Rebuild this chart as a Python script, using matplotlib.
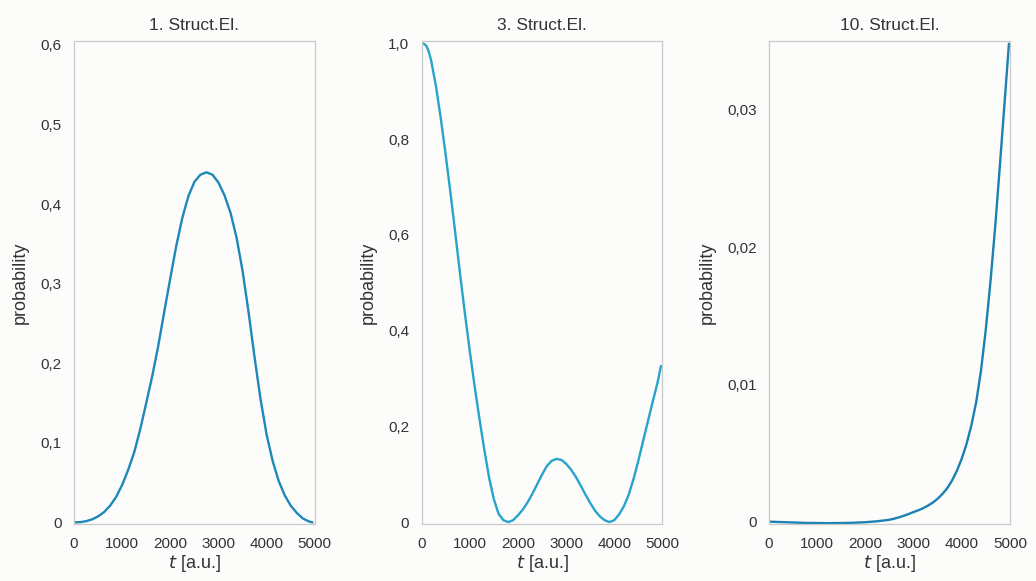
import matplotlib
matplotlib.use("Agg")
import matplotlib.pyplot as plt

# ---- data ----
titles = ["1. Struct.El.", "3. Struct.El.", "10. Struct.El."]

t1 = [0, 125, 250, 375, 500, 625, 750, 875, 1000, 1125, 1250, 1375, 1500, 1625,
      1750, 1875, 2000, 2125, 2250, 2375, 2500, 2625, 2750, 2875, 3000, 3125,
      3250, 3375, 3500, 3625, 3750, 3875, 4000, 4125, 4250, 4375, 4500, 4625,
      4750, 4875, 4950]
p1 = [0.0, 0.0003, 0.0015, 0.0038, 0.0075, 0.013, 0.021, 0.032, 0.047, 0.066,
      0.088, 0.117, 0.150, 0.184, 0.222, 0.265, 0.307, 0.348, 0.383, 0.410,
      0.428, 0.437, 0.440, 0.437, 0.427, 0.411, 0.389, 0.358, 0.316, 0.264,
      0.207, 0.154, 0.110, 0.077, 0.052, 0.034, 0.021, 0.012, 0.005, 0.0012, 0.0]

t2 = [0, 50, 100, 150, 200, 300, 400, 500, 600, 700, 800, 900, 1000, 1100, 1200,
      1300, 1400, 1500, 1600, 1700, 1800, 1900, 2000, 2100, 2200, 2300, 2400,
      2500, 2600, 2700, 2800, 2900, 3000, 3100, 3200, 3300, 3400, 3500, 3600,
      3700, 3800, 3900, 4000, 4100, 4200, 4300, 4400, 4500, 4600, 4700, 4800,
      4900, 4970]
p2 = [1.000, 0.999, 0.995, 0.983, 0.964, 0.910, 0.843, 0.768, 0.688, 0.604,
      0.518, 0.436, 0.358, 0.285, 0.217, 0.153, 0.094, 0.048, 0.017, 0.004,
      0.000, 0.004, 0.014, 0.026, 0.041, 0.059, 0.079, 0.099, 0.117, 0.128,
      0.132, 0.130, 0.122, 0.110, 0.095, 0.077, 0.058, 0.040, 0.024, 0.012,
      0.004, 0.000, 0.004, 0.016, 0.033, 0.057, 0.090, 0.128, 0.170, 0.211,
      0.252, 0.292, 0.326]

t3 = [0, 250, 500, 750, 1000, 1250, 1500, 1750, 2000, 2250, 2500, 2600, 2700,
      2800, 2900, 3000, 3100, 3200, 3300, 3400, 3500, 3600, 3700, 3800, 3900,
      4000, 4100, 4200, 4300, 4400, 4500, 4600, 4700, 4800, 4900, 4980]
p3 = [0.0, -0.00003, -0.00006, -0.00009, -0.0001, -0.00011, -0.0001, -0.00008,
      -0.00004, 0.00003, 0.00014, 0.00022, 0.00032, 0.00043, 0.00056, 0.00070,
      0.00083, 0.00098, 0.00117, 0.00139, 0.00167, 0.00202, 0.00244, 0.00300,
      0.00371, 0.00458, 0.00566, 0.00700, 0.0087, 0.0110, 0.0140, 0.0176,
      0.0217, 0.0263, 0.0310, 0.0348]

xticks = [0, 1000, 2000, 3000, 4000, 5000]
yticks1 = [0, 0.1, 0.2, 0.3, 0.4, 0.5, 0.6]
ylabels1 = ["0", "0,1", "0,2", "0,3", "0,4", "0,5", "0,6"]
yticks2 = [0, 0.2, 0.4, 0.6, 0.8, 1.0]
ylabels2 = ["0", "0,2", "0,4", "0,6", "0,8", "1,0"]
yticks3 = [0, 0.01, 0.02, 0.03]
ylabels3 = ["0", "0,01", "0,02", "0,03"]

series = [(t1, p1, yticks1, ylabels1, (-0.002, 0.605), "#1e88b9"),
          (t2, p2, yticks2, ylabels2, (-0.004, 1.005), "#27a3cc"),
          (t3, p3, yticks3, ylabels3, (-0.00017, 0.0350), "#1b80b2")]

plt.rcParams['font.family'] = ['Liberation Sans', 'DejaVu Sans']

bg = "#fcfcfb"
fig = plt.figure(figsize=(10.36, 5.81), dpi=100, facecolor=bg)
lefts = [0.0714, 0.4069, 0.7423]
width = 0.2325
bottom = 0.0981
height = 0.8313

for i, (t, p, yt, yl, ylim, col) in enumerate(series):
    ax = fig.add_axes([lefts[i], bottom, width, height], facecolor=bg)
    ax.plot(t, p, color=col, lw=1.7, solid_capstyle='round', solid_joinstyle='round')
    ax.set_xlim(0, 5000)
    ax.set_ylim(*ylim)
    ax.set_xticks(xticks)
    ax.set_xticklabels([str(x) for x in xticks])
    ax.set_yticks(yt)
    ax.set_yticklabels(yl)
    ax.tick_params(length=0, labelsize=11, colors="#333333", pad=9)
    for s in ax.spines.values():
        s.set_color("#c9c9c9")
        s.set_linewidth(0.9)
    ax.set_title(titles[i], fontsize=12.5, color="#333333", pad=8)
    ax.set_ylabel("probability", fontsize=13, color="#333333", labelpad=8)
    ax.set_xlabel(r"$t$ [a.u.]", fontsize=13, color="#333333", labelpad=2)

fig.savefig("out.png", dpi=100, facecolor=bg)
